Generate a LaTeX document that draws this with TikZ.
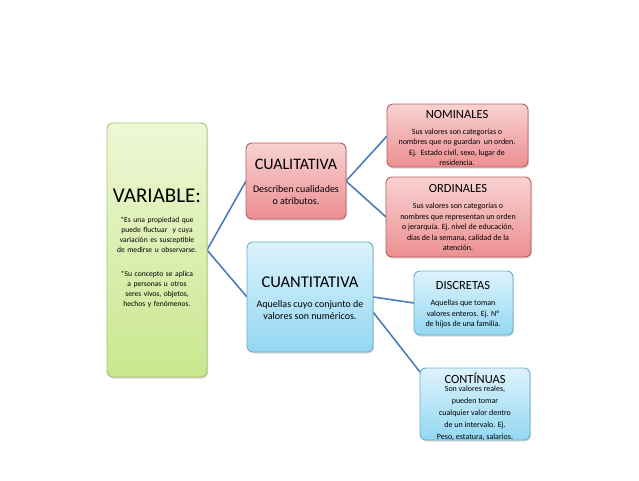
\documentclass[tikz,border=0pt]{standalone}
\usepackage{fontspec}
\setmainfont{Carlito}
\usetikzlibrary{shadows}
\definecolor{lnk}{HTML}{4A7EBB}
\definecolor{gtop}{HTML}{EEF7D6}
\definecolor{gbot}{HTML}{C9E78E}
\definecolor{gdr}{HTML}{A9C46C}
\definecolor{rtop}{HTML}{F8D2D2}
\definecolor{rbot}{HTML}{EC8F91}
\definecolor{rdr}{HTML}{B85D5D}
\definecolor{btop}{HTML}{DDF3FC}
\definecolor{bbot}{HTML}{93D7F2}
\definecolor{bdr}{HTML}{6AAFC9}
\tikzset{
  box/.style={rounded corners=6pt, line width=0.9pt, drop shadow={opacity=0.3,shadow xshift=1pt,shadow yshift=-1.5pt}},
  gbox/.style={box, draw=gdr, top color=gtop, bottom color=gbot},
  rbox/.style={box, draw=rdr, top color=rtop, bottom color=rbot},
  bbox/.style={box, draw=bdr, top color=btop, bottom color=bbot},
  lnkline/.style={lnk, line width=1.6pt},
  txt/.style={align=center, inner sep=0pt, text=black}
}
\begin{document}
\begin{tikzpicture}[x=1pt,y=-1pt]
\useasboundingbox (0,0) rectangle (639,480);
\draw[lnkline] (207,250) -- (246,181);
\draw[lnkline] (207,250) -- (247,297);
\draw[lnkline] (346,181) -- (387,136);
\draw[lnkline] (346,181) -- (386,217);
\draw[lnkline] (373,297) -- (414,303);
\draw[lnkline] (373,312) -- (420,372);
\path[gbox] (107,123) rectangle (207,377) node[midway] (var) {};
\node[txt, font=\fontsize{21}{23}\selectfont] (vart) at (157,196) {VARIABLE:};
\node[txt, font=\fontsize{7.6}{10}\selectfont, text width=92pt] (vard) at (157,235) {*Es una propiedad que puede fluctuar\ \ y cuya variación es susceptible de medirse u observarse.};
\node[txt, font=\fontsize{7.6}{10}\selectfont, text width=92pt] (vare) at (157,289) {*Su concepto se aplica a personas u otros seres vivos, objetos, hechos y fenómenos.};
\path[rbox] (246,143) rectangle (346,219) node[midway] (cual) {};
\node[txt, font=\fontsize{16}{18}\selectfont] (cualt) at (296,164) {CUALITATIVA};
\node[txt, font=\fontsize{10}{12}\selectfont] (cuald) at (296,195) {Describen cualidades\\o atributos.};
\path[rbox] (387,104) rectangle (528,167) node[midway] (nom) {};
\node[txt, font=\fontsize{12.5}{14}\selectfont] (nomt) at (457,114) {NOMINALES};
\node[txt, font=\fontsize{8}{10.5}\selectfont] (nomd) at (457,147) {Sus valores son categorías o\\nombres que no guardan\ \ un orden.\\Ej.\ \ Estado civil, sexo, lugar de\\residencia.};
\path[rbox] (386,177) rectangle (531,257) node[midway] (ord) {};
\node[txt, font=\fontsize{12.5}{14}\selectfont] (ordt) at (458,188) {ORDINALES};
\node[txt, font=\fontsize{8}{10.5}\selectfont] (ordd) at (458,227) {Sus valores son categorías o\\nombres que representan un orden\\o jerarquía. Ej.\ nivel de educación,\\días de la semana, calidad de la\\atención.};
\path[bbox] (247,242) rectangle (373,352) node[midway] (cuan) {};
\node[txt, font=\fontsize{16.5}{18}\selectfont] (cuant) at (310,282) {CUANTITATIVA};
\node[txt, font=\fontsize{10}{12}\selectfont] (cuand) at (310,310) {Aquellas cuyo conjunto de\\valores son numéricos.};
\path[bbox] (414,271) rectangle (513,335) node[midway] (dis) {};
\node[txt, font=\fontsize{12.5}{14}\selectfont] (dist) at (463,285) {DISCRETAS};
\node[txt, font=\fontsize{8}{10.5}\selectfont] (disd) at (463,314) {Aquellas que toman\\valores enteros. Ej. N°\\de hijos de una familia.};
\path[bbox] (420,368) rectangle (530,440) node[midway] (con) {};
\node[txt, font=\fontsize{12.5}{14}\selectfont] (cont) at (475,378) {CONTÍNUAS};
\node[txt, font=\fontsize{8}{12}\selectfont] (cond) at (475,413) {Son valores reales,\\pueden tomar\\cualquier valor dentro\\de un intervalo. Ej.\\Peso, estatura, salarios.};
\end{tikzpicture}
\end{document}
